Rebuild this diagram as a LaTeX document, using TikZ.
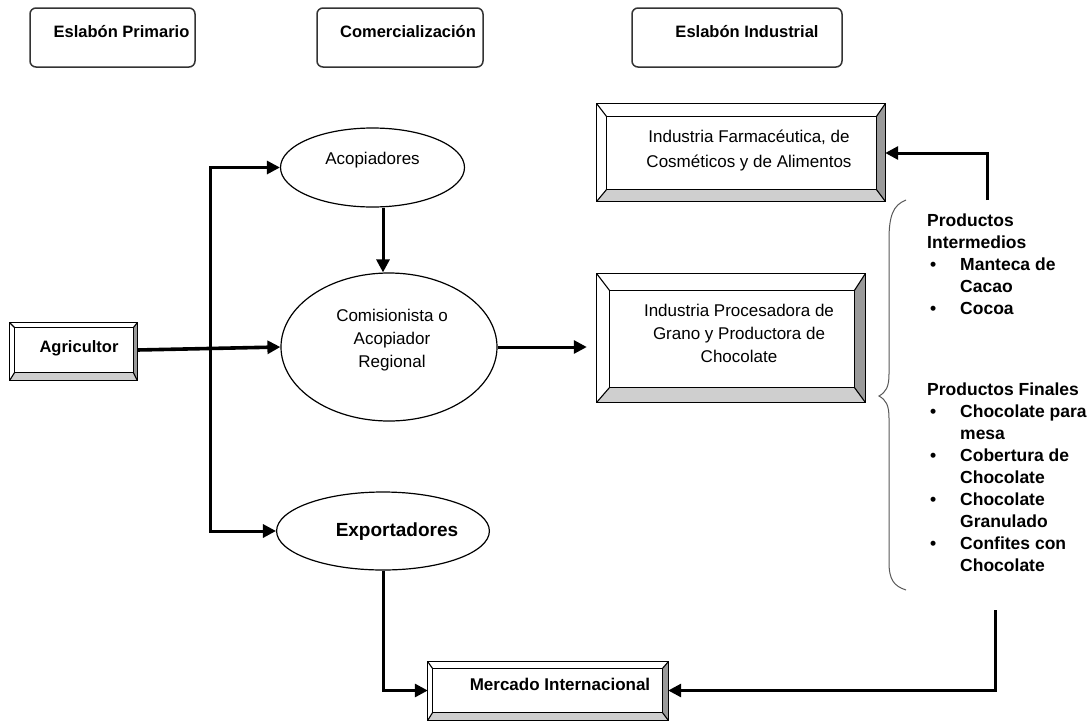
\documentclass[tikz,border=0pt]{standalone}
\usepackage{fontspec}
\setmainfont{Liberation Sans}
\usetikzlibrary{shapes.geometric,arrows.meta}
\newcommand\upby[2]{\raisebox{#1}[\height][\depth]{#2}}
\newcommand\bevelfr[5]{%
  \coordinate (#1-ONW) at ([shift={(-#2pt,#3pt)}]#1.north west);
  \coordinate (#1-ONE) at ([shift={(#4pt,#3pt)}]#1.north east);
  \coordinate (#1-OSE) at ([shift={(#4pt,-#5pt)}]#1.south east);
  \coordinate (#1-OSW) at ([shift={(-#2pt,-#5pt)}]#1.south west);
  \fill[bevdark] (#1.north east) -- (#1-ONE) -- (#1-OSE) -- (#1.south east) -- cycle;
  \fill[bevlight] (#1.south west) -- (#1-OSW) -- (#1-OSE) -- (#1.south east) -- cycle;
  \draw[boxline] (#1-ONW) rectangle (#1-OSE);
  \draw[boxline] (#1-ONW) -- (#1.north west) (#1-ONE) -- (#1.north east)
                 (#1-OSE) -- (#1.south east) (#1-OSW) -- (#1.south west);
  \draw[boxline] (#1.north west) rectangle (#1.south east);
}
\definecolor{bevdark}{HTML}{9A9A9A}
\definecolor{bevlight}{HTML}{CFCFCF}
\tikzset{
  boxline/.style={draw=black, line width=1.1pt},
  bevdark/.style={fill=bevdark},
  bevlight/.style={fill=bevlight},
  header/.style={draw=black!80, line width=1.5pt, rounded corners=6pt,
    inner sep=0pt, minimum height=59pt, text height=12pt, text depth=4pt,
    font=\fontsize{16.5}{20}\selectfont\bfseries},
  ellip/.style={ellipse, draw=black, line width=1.2pt, inner sep=0pt,
    font=\fontsize{17}{23}\selectfont},
  inbox/.style={inner sep=0pt, align=center, font=\fontsize{17}{24}\selectfont},
  arr/.style={line width=3pt, -{Triangle[length=13pt,width=13pt]}},
  side/.style={anchor=north west, inner sep=0pt, align=left,
    font=\fontsize{17.5}{22}\selectfont\bfseries},
  brace/.style={draw=black!65, line width=1pt},
}
\begin{document}
\begin{tikzpicture}[x=1pt,y=-1pt]
\useasboundingbox[fill=white] (0,0) rectangle (1088,721);

% headers
\node[header, minimum width=165pt] (h1) at (112.5,37.5) {\hspace*{18pt}\upby{4pt}{Eslabón Primario}};
\node[header, minimum width=166pt] (h2) at (400,37.5) {\hspace*{16pt}\upby{4pt}{Comercialización}};
\node[header, minimum width=210pt] (h3) at (737,37.5) {\hspace*{20pt}\upby{4pt}{Eslabón Industrial}};

% ellipses
\node[ellip, minimum width=184pt, minimum height=79pt, text height=12pt, text depth=4pt] (acop) at (372.5,167.5)
  {\upby{7.5pt}{Acopiadores}};
\node[ellip, minimum width=216pt, minimum height=148pt] (comis) at (389,347)
  {\hspace*{6pt}\upby{7pt}{\begin{tabular}{@{}c@{}}Comisionista o\\Acopiador\\Regional\end{tabular}}};
\node[ellip, minimum width=204pt, minimum height=78pt, text height=13pt, text depth=0pt,
  font=\fontsize{19}{23}\selectfont\bfseries] (expo) at (383,531)
  {\hspace*{28pt}\upby{1pt}{Exportadores}};

% bevel boxes (inner rectangles)
\node[inbox, minimum width=269pt, minimum height=72pt] (farm) at (741.5,153)
  {\hspace*{15pt}\upby{3pt}{\begin{tabular}{@{}c@{}}Industria Farmacéutica, de\\[1pt]Cosméticos y de Alimentos\end{tabular}}};
\bevelfr{farm}{10}{13}{9}{12}

\node[inbox, minimum width=244pt, minimum height=96pt] (proc) at (732,339)
  {\hspace*{14pt}\upby{4pt}{\begin{tabular}{@{}c@{}}Industria Procesadora de\\[-1pt]Grano y Productora de\\[-1pt]Chocolate\end{tabular}}};
\bevelfr{proc}{13}{17}{11}{15}

\node[inbox, minimum width=118pt, minimum height=44pt, text height=12pt, text depth=4pt,
  font=\fontsize{16.5}{20}\selectfont\bfseries] (agri) at (74,350)
  {\hspace*{10pt}\upby{2pt}{Agricultor}};
\bevelfr{agri}{5}{5}{4}{8}

\node[inbox, minimum width=229pt, minimum height=43pt, text height=12pt, text depth=4pt,
  font=\fontsize{17}{20}\selectfont\bfseries] (merc) at (547.5,690.5)
  {\hspace*{25pt}\upby{4pt}{Mercado Internacional}};
\bevelfr{merc}{5}{7}{6}{8}

% side texts
\node[side] (interm) at (927,214)
  {Productos\\Intermedios\\
   \hspace*{3pt}\makebox[30pt][l]{\textbullet}Manteca de\\
   \hspace*{33pt}Cacao\\
   \hspace*{3pt}\makebox[30pt][l]{\textbullet}Cocoa};
\node[side] (finales) at (927,383)
  {Productos Finales\\
   \hspace*{3pt}\makebox[30pt][l]{\textbullet}Chocolate para\\
   \hspace*{33pt}mesa\\
   \hspace*{3pt}\makebox[30pt][l]{\textbullet}Cobertura de\\
   \hspace*{33pt}Chocolate\\
   \hspace*{3pt}\makebox[30pt][l]{\textbullet}Chocolate\\
   \hspace*{33pt}Granulado\\
   \hspace*{3pt}\makebox[30pt][l]{\textbullet}Confites con\\
   \hspace*{33pt}Chocolate};

% brace
\draw[brace] (906,200) .. controls (893,205) and (889,216) .. (889,240)
  -- (889,374) .. controls (889,387) and (886,392) .. (879,396)
  .. controls (886,400) and (889,405) .. (889,418)
  -- (889,562) .. controls (889,580) and (894,586) .. (906,590);

% connectors
\coordinate (split) at (210,350);
\coordinate (farmfeed) at (987,200);
\coordinate (mercfeed) at (995,610);
\coordinate (procw) at ([xshift=-23pt]proc.west);

\draw[arr, line width=3.6pt] ([xshift=4pt]agri.east) -- (comis.west);
\draw[arr] (split) |- (acop.west);
\draw[arr] (split) |- (expo.west);
\draw[arr] ([xshift=10.5pt]acop.south) -- ([xshift=-6pt]comis.north);
\draw[arr] (comis.east) -- (comis.east -| procw);
\draw[arr] (farmfeed) |- ([xshift=9pt]farm.east);
\draw[arr] (expo.south) |- ([xshift=-5pt]merc.west);
\draw[arr] (mercfeed) |- ([xshift=6pt]merc.east);
\end{tikzpicture}
\end{document}
